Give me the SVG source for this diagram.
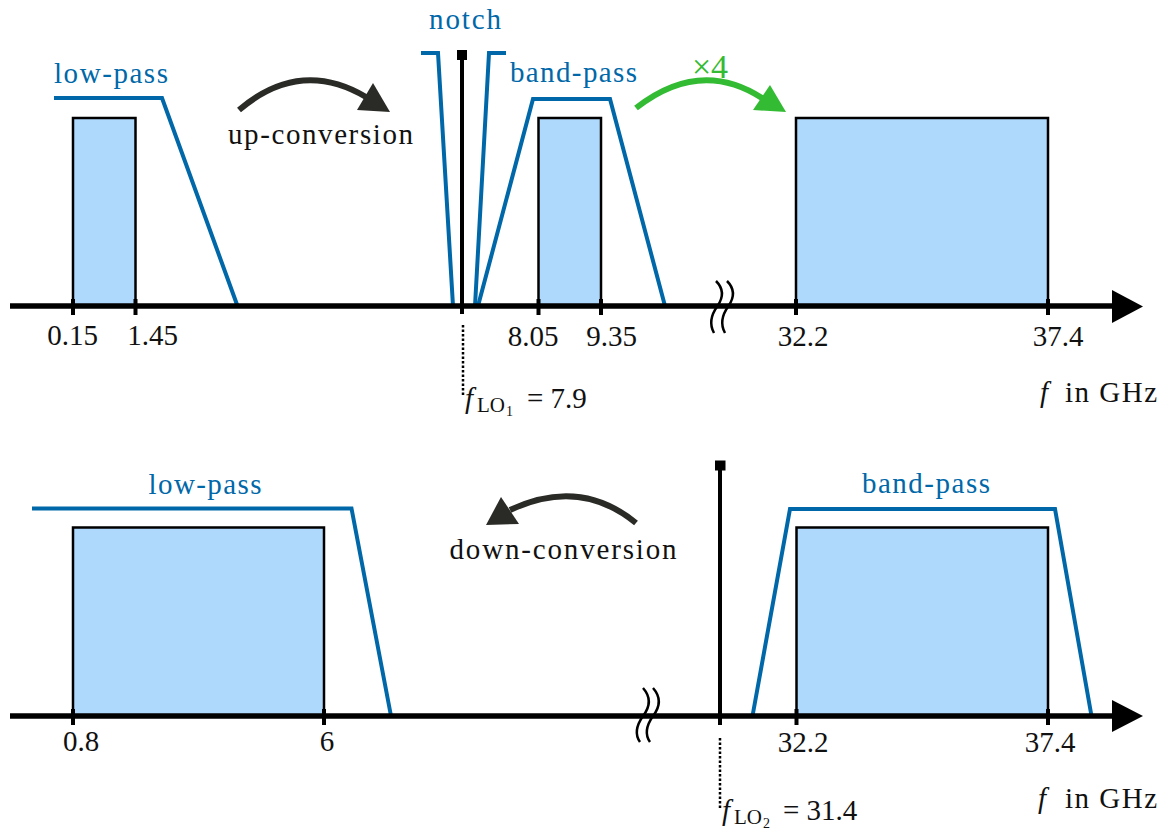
<svg xmlns="http://www.w3.org/2000/svg" width="1169" height="832" viewBox="0 0 1169 832">
<style>
text{font-family:"Liberation Serif","Times New Roman",serif;font-size:29px;fill:#111}
.blue{fill:#0068a8}
.green{fill:#33bb33}
.mid{text-anchor:middle}
.sub{font-size:21px}
.subsub{font-size:14px}
.axis{stroke:#000;stroke-width:5.5;fill:none}
.tick{stroke:#000;stroke-width:4;fill:none}
.band{fill:#aed8fc;stroke:#000;stroke-width:2.5}
.filt{fill:none;stroke:#0068a8;stroke-width:4;stroke-linejoin:miter}
.lo{stroke:#000;stroke-width:4;fill:none}
.dot{stroke:#000;stroke-width:2.5;stroke-dasharray:2.5 2;fill:none}
.brk{stroke:#000;stroke-width:2.5;fill:none}
.arcd{stroke:#2a2a26;stroke-width:6;fill:none}
.arcg{stroke:#33bb33;stroke-width:6;fill:none}
</style>

<g id="top-bands">
  <rect class="band" x="73" y="118" width="62.5" height="188"/>
  <rect class="band" x="538.5" y="118" width="62.5" height="188"/>
  <rect class="band" x="796" y="118" width="252" height="188"/>
</g>
<g id="bottom-bands">
  <rect class="band" x="73" y="527.5" width="251" height="188.5"/>
  <rect class="band" x="796.5" y="527.5" width="251.5" height="188.5"/>
</g>

<g id="top-filters">
  <polyline class="filt" points="54,98 162,98 237.5,306"/>
  <polyline class="filt" points="421,53 438,53 453,306"/>
  <polyline class="filt" points="475,306 489,53 506,53"/>
  <polyline class="filt" points="478,306 533,99 610,99 665,306"/>
</g>
<g id="bottom-filters">
  <polyline class="filt" points="32,508.5 351.5,508.5 391,716"/>
  <polyline class="filt" points="752.5,716 790,509 1055,509 1091.5,716"/>
</g>

<g id="connectors">
  <line class="axis" x1="10" y1="306" x2="1115" y2="306"/>
  <polygon points="1112,290 1143,306.5 1112,323" fill="#000"/>
  <line class="axis" x1="10" y1="716" x2="1115" y2="716"/>
  <polygon points="1112,700 1143,716 1112,732" fill="#000"/>
  <path class="arcd" d="M239,110 Q300,58 366,97"/>
  <polygon points="357,110 373,83 390,112" fill="#2a2a26"/>
  <path class="arcg" d="M636,108 Q700,58 762,98"/>
  <polygon points="753,110 770,85 786,112" fill="#33bb33"/>
  <path class="arcd" d="M636,523 Q580,477 510,510"/>
  <polygon points="501,497 519,524 486,525" fill="#2a2a26"/>
</g>

<g id="top-ticks">
  <line class="tick" x1="73" y1="299" x2="73" y2="315"/>
  <line class="tick" x1="135.5" y1="299" x2="135.5" y2="315"/>
  <line class="tick" x1="538.5" y1="299" x2="538.5" y2="315"/>
  <line class="tick" x1="601" y1="299" x2="601" y2="315"/>
  <line class="tick" x1="796" y1="299" x2="796" y2="315"/>
  <line class="tick" x1="1048" y1="299" x2="1048" y2="315"/>
</g>
<g id="bottom-ticks">
  <line class="tick" x1="73" y1="709" x2="73" y2="725"/>
  <line class="tick" x1="324" y1="709" x2="324" y2="725"/>
  <line class="tick" x1="796.5" y1="709" x2="796.5" y2="725"/>
  <line class="tick" x1="1048" y1="709" x2="1048" y2="725"/>
</g>

<g id="breaks">
  <path class="brk" d="M716,281 C724,289 723,298 717.5,306 C711,315 709,324 714,333"/>
  <path class="brk" d="M727,281 C735,289 734,298 728.5,306 C722,315 720,324 725,333"/>
  <path class="brk" d="M643,688 C651,697 650,707 643,716 C636,726 635,735 640,742"/>
  <path class="brk" d="M653,688 C661,697 660,707 653,716 C646,726 645,735 650,742"/>
</g>

<g id="lo1">
  <line class="lo" x1="462" y1="55" x2="462" y2="314"/>
  <rect x="457" y="50" width="10" height="10" fill="#000"/>
  <line class="dot" x1="463" y1="325" x2="463" y2="396"/>
  <text x="465" y="408" font-style="italic">f</text>
  <text class="sub" x="477" y="412">LO</text>
  <text class="subsub" x="506" y="416">1</text>
  <text x="527" y="408">= 7.9</text>
</g>
<g id="lo2">
  <line class="lo" x1="720" y1="465" x2="720" y2="725"/>
  <rect x="715" y="460.5" width="10.5" height="10" fill="#000"/>
  <line class="dot" x1="720" y1="738" x2="720" y2="809"/>
  <text x="722" y="820" font-style="italic">f</text>
  <text class="sub" x="734" y="824">LO</text>
  <text class="subsub" x="763" y="828">2</text>
  <text x="783" y="820">= 31.4</text>
</g>

<g id="top-labels">
  <text class="blue mid" x="111" y="83" textLength="114">low-pass</text>
  <text class="blue mid" x="465" y="29" textLength="72">notch</text>
  <text class="blue mid" x="573.5" y="82" textLength="127">band-pass</text>
  <text class="green mid" x="710" y="78" style="font-size:34px">×4</text>
  <text class="mid" x="320.5" y="144" textLength="185">up-conversion</text>
  <text class="mid" x="72.5" y="345">0.15</text>
  <text class="mid" x="152.5" y="345">1.45</text>
  <text class="mid" x="533" y="346">8.05</text>
  <text class="mid" x="611.5" y="346">9.35</text>
  <text class="mid" x="803" y="346">32.2</text>
  <text class="mid" x="1058" y="346">37.4</text>
  <text x="1040" y="402" font-style="italic">f</text>
  <text x="1065" y="402" textLength="92">in GHz</text>
</g>
<g id="bottom-labels">
  <text class="blue mid" x="205" y="494" textLength="113">low-pass</text>
  <text class="blue mid" x="926" y="493" textLength="128">band-pass</text>
  <text class="mid" x="563" y="559" textLength="227">down-conversion</text>
  <text class="mid" x="81" y="751">0.8</text>
  <text class="mid" x="327" y="751">6</text>
  <text class="mid" x="803" y="752">32.2</text>
  <text class="mid" x="1050" y="752">37.4</text>
  <text x="1038" y="808" font-style="italic">f</text>
  <text x="1065" y="808" textLength="92">in GHz</text>
</g>
</svg>
